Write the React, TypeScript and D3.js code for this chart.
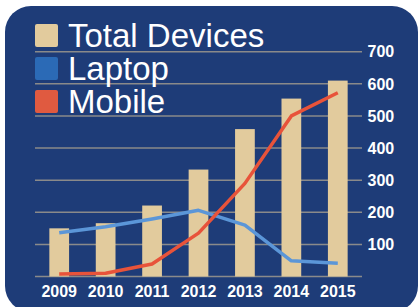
import { useEffect, useRef } from "react";
import * as d3 from "d3";

const years = ["2009", "2010", "2011", "2012", "2013", "2014", "2015"];
const totalDevices = [150, 166, 221, 333, 459, 554, 610];
const laptop = [136, 155, 179, 206, 160, 49, 41];
const mobile = [8, 10, 39, 135, 290, 500, 572];
const yTicks = [100, 200, 300, 400, 500, 600, 700];
const legendItems = ["Total Devices", "Laptop", "Mobile"];

const FONT = "'Liberation Sans', Arial, sans-serif";

const App = () => {
  const svgRef = useRef<SVGSVGElement>(null);

  useEffect(() => {
    const w = 420;
    const h = 307;
    const svg = d3.select(svgRef.current).attr("width", w).attr("height", h);
    svg.selectAll("*").remove();

    // panel
    svg
      .append("rect")
      .attr("x", 5)
      .attr("y", 6)
      .attr("width", 413)
      .attr("height", 306)
      .attr("rx", 26)
      .attr("fill", "#1e3c78");

    const xScale = d3
      .scaleBand()
      .domain(years)
      .range([36, 361])
      .paddingInner(0.575)
      .paddingOuter(0.2875);

    const yScale = d3.scaleLinear().domain([0, 700]).range([276.5, 51.7]);

    // grid lines incl. baseline
    svg
      .append("g")
      .selectAll("line")
      .data([0, ...yTicks])
      .join("line")
      .attr("x1", 35)
      .attr("x2", 362)
      .attr("y1", (d) => yScale(d))
      .attr("y2", (d) => yScale(d))
      .attr("stroke", "#8a8a8a")
      .attr("stroke-width", 1.5);

    // right axis labels
    svg
      .append("g")
      .selectAll("text")
      .data(yTicks)
      .join("text")
      .attr("x", 367.5)
      .attr("y", (d) => yScale(d))
      .attr("dy", "0.36em")
      .attr("fill", "#fff")
      .attr("font-family", FONT)
      .attr("font-weight", "bold")
      .attr("font-size", 16)
      .text((d) => d);

    // x labels
    svg
      .append("g")
      .selectAll("text")
      .data(years)
      .join("text")
      .attr("x", (d) => (xScale(d) ?? 0) + xScale.bandwidth() / 2)
      .attr("y", 296.5)
      .attr("text-anchor", "middle")
      .attr("fill", "#fff")
      .attr("font-family", FONT)
      .attr("font-weight", "bold")
      .attr("font-size", 16)
      .text((d) => d);

    // bars
    svg
      .append("g")
      .selectAll("rect")
      .data(totalDevices)
      .join("rect")
      .attr("x", (d, i) => xScale(years[i]) ?? 0)
      .attr("y", (d) => yScale(d))
      .attr("width", xScale.bandwidth())
      .attr("height", (d) => yScale(0) - yScale(d))
      .attr("fill", "#e2cb9d");

    const line = d3
      .line<number>()
      .x((d, i) => (xScale(years[i]) ?? 0) + xScale.bandwidth() / 2)
      .y((d) => yScale(d));

    svg
      .append("path")
      .attr("d", line(laptop))
      .attr("fill", "none")
      .attr("stroke", "#5b96d8")
      .attr("stroke-width", 3.5)
      .attr("stroke-linejoin", "round");

    svg
      .append("path")
      .attr("d", line(mobile))
      .attr("fill", "none")
      .attr("stroke", "#e8533a")
      .attr("stroke-width", 3.5)
      .attr("stroke-linejoin", "round");

    // legend
    const swatchColors = ["#e2cb9d", "#2b6ab6", "#e05a40"];
    const legend = svg
      .append("g")
      .selectAll("g")
      .data(legendItems)
      .join("g")
      .attr("transform", (d, i) => `translate(0,${i * 33})`);

    legend
      .append("rect")
      .attr("x", 35)
      .attr("y", 24)
      .attr("width", 23)
      .attr("height", 23)
      .attr("rx", 2)
      .attr("fill", (d, i) => swatchColors[i]);

    legend
      .append("text")
      .attr("x", 68)
      .attr("y", 46.5)
      .attr("fill", "#fff")
      .attr("font-family", FONT)
      .attr("font-size", 33)
      .text((d) => d);
  }, []);

  return (
    <svg
      ref={svgRef}
      style={{ position: "absolute", left: 0, top: 0, display: "block" }}
    ></svg>
  );
};

export default App;
